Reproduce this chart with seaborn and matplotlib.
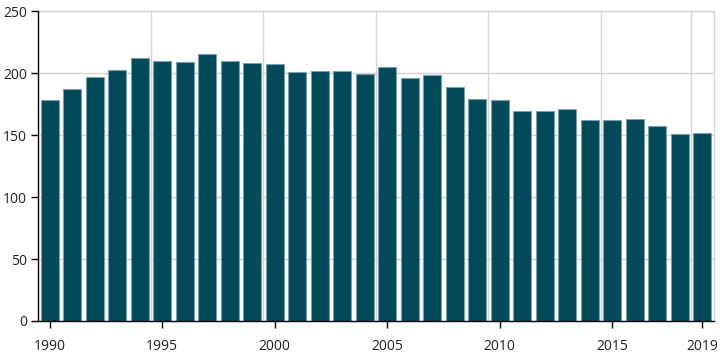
import numpy as np
import pandas as pd
import matplotlib
matplotlib.use("Agg")
import matplotlib.pyplot as plt
import seaborn as sns

# data
years = list(range(1990, 2020))
values = [178, 187, 197, 203, 212, 209.6, 208.8, 215.3, 209.6, 208,
          207.2, 200.7, 201.5, 201.5, 199.1, 204.8, 195.9, 198.3, 188.6, 178.9,
          178.2, 169.3, 169.3, 170.9, 162, 162, 162.8, 157.2, 150.7, 151.5]
xtick_years = [1990, 1995, 2000, 2005, 2010, 2015, 2019]
yticks = [0, 50, 100, 150, 200, 250]

BAR_COLOR = "#02495a"
EDGE_COLOR = "#7b9fa7"
GRID_COLOR = "#d4d4d4"
TEXT_COLOR = "#222222"

sns.set_theme(style="white")
plt.rcParams['font.family'] = ['Open Sans', 'DejaVu Sans']

df = pd.DataFrame({"year": years, "value": values})

fig = plt.figure(figsize=(7.24, 3.53), dpi=100)
ax = fig.add_axes([0.0529, 0.0907, 0.9326, 0.8773])

# grid behind the bars (vertical lines sit half a year before the tick)
for y in yticks[1:]:
    ax.axhline(y, color=GRID_COLOR, linewidth=1, zorder=0)
for yr in xtick_years[1:]:
    ax.axvline(yr - 0.5, color=GRID_COLOR, linewidth=1, zorder=0)

sns.barplot(data=df, x="year", y="value", native_scale=True, width=0.8,
            color=BAR_COLOR, edgecolor=EDGE_COLOR, linewidth=0.8,
            saturation=1, ax=ax, zorder=2)

ax.set_xlim(years[0] - 0.5, years[-1] + 0.5)
ax.set_ylim(0, 250)
ax.set_xticks(xtick_years)
ax.set_xticklabels([str(y) for y in xtick_years])
ax.set_yticks(yticks)
ax.set_xlabel("")
ax.set_ylabel("")

ax.tick_params(axis="both", which="both", length=5, width=1, color="black",
               labelsize=10, labelcolor=TEXT_COLOR, direction="out",
               bottom=True, left=True)
ax.tick_params(axis="x", pad=8)
ax.tick_params(axis="y", pad=3)

for side in ["left", "bottom"]:
    ax.spines[side].set_color("black")
    ax.spines[side].set_linewidth(1)
for side in ["top", "right"]:
    ax.spines[side].set_color(GRID_COLOR)
    ax.spines[side].set_linewidth(1)
ax.spines["left"].set_zorder(5)
ax.spines["bottom"].set_zorder(5)

fig.savefig("out.png", dpi=100)
plt.close(fig)
